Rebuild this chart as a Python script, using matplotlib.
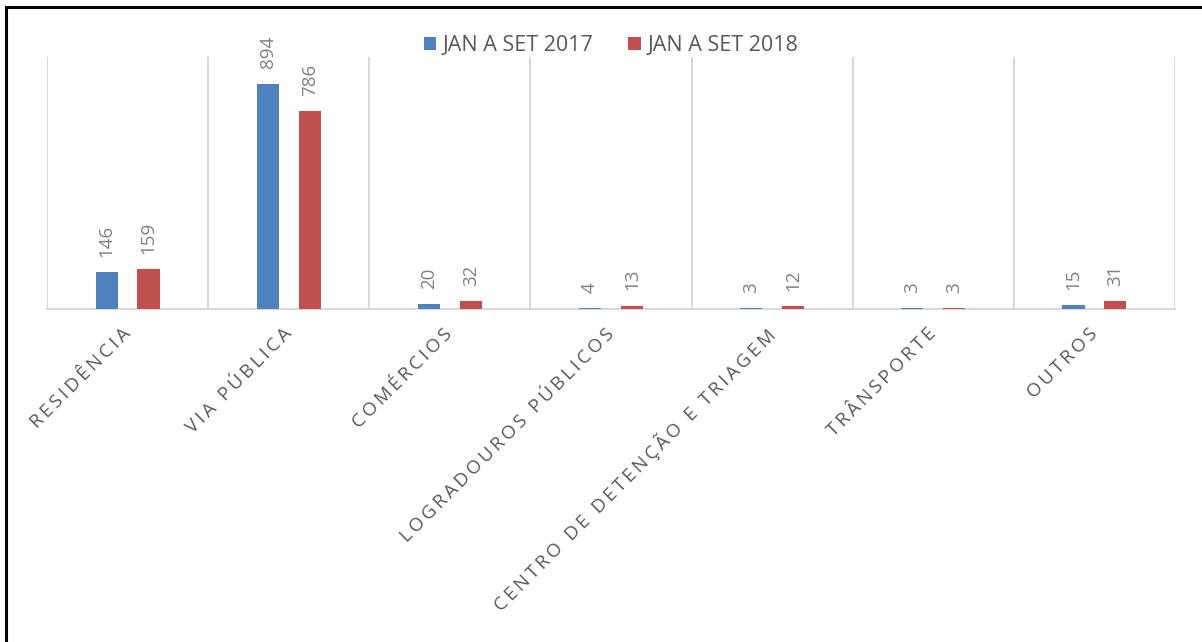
import matplotlib.pyplot as plt
import numpy as np
from matplotlib.patches import Rectangle

# dados
categorias = ["RESIDÊNCIA", "VIA PÚBLICA", "COMÉRCIOS", "LOGRADOUROS PÚBLICOS",
              "CENTRO DE DETENÇÃO E TRIAGEM", "TRÂNSPORTE", "OUTROS"]
serie_2017 = [146, 894, 20, 4, 3, 3, 15]
serie_2018 = [159, 786, 32, 13, 12, 3, 31]
nomes_series = ["JAN A SET 2017", "JAN A SET 2018"]

cor_azul = "#4F81BD"
cor_vermelho = "#C0504D"
cor_grade = "#D9D9D9"

plt.rcParams['font.family'] = ['Open Sans', 'DejaVu Sans']


def espacar(texto):
    # simula o espacamento entre letras do Excel
    return "\u2009".join(texto)


fig = plt.figure(figsize=(12.02, 6.42), dpi=100)
ax = fig.add_axes([47 / 1202, 1 - 309 / 642, 1128 / 1202, 252 / 642])

x = np.arange(len(categorias))
larg = 0.137
desl = 0.13

b1 = ax.bar(x - desl, serie_2017, larg, color=cor_azul, label=nomes_series[0], zorder=3)
b2 = ax.bar(x + desl, serie_2018, larg, color=cor_vermelho, label=nomes_series[1], zorder=3)

for barras in (b1, b2):
    for b in barras:
        ax.annotate(str(int(b.get_height())),
                    (b.get_x() + b.get_width() / 2, b.get_height()),
                    xytext=(0, 11), textcoords="offset points",
                    rotation=90, ha="center", va="bottom",
                    fontsize=13.5, color="#808080")

ax.set_xlim(-0.5, len(categorias) - 0.5)
ax.set_ylim(0, 1000)

# grade vertical entre categorias
for pos in np.arange(-0.5, len(categorias), 1.0):
    ax.axvline(pos, color=cor_grade, lw=1.5, zorder=1)

for lado in ["top", "right", "left"]:
    ax.spines[lado].set_visible(False)
ax.spines["bottom"].set_color(cor_grade)
ax.spines["bottom"].set_linewidth(1.5)

ax.set_yticks([])
ax.set_xticks(x)
ax.set_xticklabels([espacar(c) for c in categorias], rotation=45, ha="right", va="center",
                   rotation_mode="anchor", fontsize=13.6, color="#595959")
ax.tick_params(axis="x", length=0, pad=16)

leg = ax.legend(loc="center", bbox_to_anchor=(0.5, 1.045), ncol=2, frameon=False,
                fontsize=15.5, handlelength=0.6, handleheight=0.6, handletextpad=0.3,
                columnspacing=1.6, labelcolor="#595959")

# moldura preta
fig.patches.append(Rectangle((6 / 1202, -0.1), 1.2, 1 - 7 / 642 + 0.1, transform=fig.transFigure,
                             fill=False, edgecolor="black", lw=2.2, zorder=10))

fig.savefig("out.png", dpi=100)
